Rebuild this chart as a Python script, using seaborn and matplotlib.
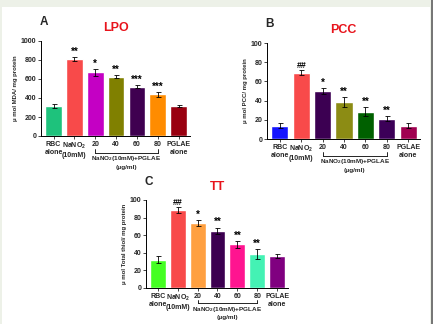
import matplotlib
matplotlib.use("Agg")
import matplotlib.pyplot as plt
import matplotlib.patches as mpatches
import seaborn as sns
import pandas as pd

sns.set_style("ticks")
plt.rcParams['font.family'] = ['Liberation Sans', 'DejaVu Sans']
plt.rcParams['mathtext.fontset'] = 'custom'
plt.rcParams['mathtext.rm'] = 'Liberation Sans:bold'
plt.rcParams['mathtext.it'] = 'Liberation Sans:bold'
plt.rcParams['mathtext.bf'] = 'Liberation Sans:bold'
plt.rcParams['mathtext.default'] = 'rm'

groups = ["RBC alone", "NaNO2", "20", "40", "60", "80", "PGLAE alone"]
tick_labels = ["RBC\nalone", "NaNO$_2$\n(10mM)", "20", "40", "60", "80", "PGLAE\nalone"]
bracket_label = "NaNO$_2$(10mM)+PGLAE\n(\u03bcg/ml)"

lpo_vals = [315, 810, 670, 625, 520, 440, 315]
lpo_err = [20, 20, 35, 15, 15, 25, 15]
lpo_sig = ["", "**", "*", "**", "***", "***", ""]
lpo_colors = ["#1ec27c", "#f84a4a", "#c400c4", "#808000", "#3f0050", "#ff8c00", "#990010"]

pcc_vals = [14, 69, 50, 38.5, 28.5, 21, 14]
pcc_err = [2.5, 2.5, 3, 5, 4.5, 2.5, 2.5]
pcc_sig = ["", "##", "*", "**", "**", "**", ""]
pcc_colors = ["#1414ff", "#f84a4a", "#3c0052", "#8c8c14", "#006000", "#3c0058", "#a00050"]

tt_vals = [32, 88.5, 74, 65, 49.5, 39, 36.5]
tt_err = [4, 3, 3.5, 3.5, 4, 5.5, 2.5]
tt_sig = ["", "##", "*", "**", "**", "**", ""]
tt_colors = ["#44ff22", "#f84a4a", "#ffa040", "#3c0050", "#ff1490", "#44f2b4", "#800080"]

W, H = 433, 324
fig = plt.figure(figsize=(W / 100, H / 100), dpi=100)
fig.patch.set_facecolor("#edf1e8")
bg = mpatches.Rectangle((2 / W, 0), 428 / W, (H - 7) / H,
                        transform=fig.transFigure, facecolor="white",
                        edgecolor="none", zorder=-10)
edge = mpatches.Rectangle((431 / W, 0), 2 / W, 1,
                          transform=fig.transFigure, facecolor="#777777",
                          edgecolor="none", zorder=-10)
fig.add_artist(bg)
fig.add_artist(edge)


def px_axes(l, r, b, t):
    ax = fig.add_axes([l / W, 1 - b / H, (r - l) / W, (b - t) / H])
    ax.set_facecolor("none")
    return ax


def panel(ax, vals, errs, sig, colors, ymax, step, ylabel, title, letter, sigoff):
    df = pd.DataFrame({"group": groups, "value": vals})
    sns.barplot(data=df, x="group", y="value", hue="group", palette=colors,
                legend=False, width=0.8, ax=ax, saturation=1, errorbar=None)
    ax.errorbar(range(len(vals)), vals, yerr=errs, fmt="none", ecolor="black",
                elinewidth=0.6, capsize=1.8, capthick=0.6)
    for i, s in enumerate(sig):
        if s:
            ax.text(i, vals[i] + errs[i] + sigoff, s, ha="center", va="bottom",
                    fontsize=7 if "*" in s else 6.3, fontweight="bold", color="black")
    ax.set_ylim(0, ymax)
    ax.set_xlim(-0.6, 6.55)
    ax.set_yticks(range(0, ymax + 1, step))
    ax.set_xticks(range(7))
    ax.set_xticklabels(tick_labels)
    ax.set_xlabel("")
    ax.set_ylabel(ylabel, fontsize=4.3, fontweight="bold", labelpad=2)
    ax.tick_params(axis="both", labelsize=5, length=2, width=0.6, pad=1.5)
    for lab in ax.get_xticklabels() + ax.get_yticklabels():
        lab.set_fontweight("bold")
    for sp in ["top", "right"]:
        ax.spines[sp].set_visible(False)
    for sp in ["left", "bottom"]:
        ax.spines[sp].set_linewidth(0.7)
        ax.spines[sp].set_color("black")
    ax.set_title(title, color="#e8141c", fontsize=9, fontweight="bold", pad=7)
    ax.text(-0.01, 1.14, letter, transform=ax.transAxes, fontsize=8.5,
            fontweight="bold", ha="left", va="bottom")
    # bracket under 20-80
    tr = ax.get_xaxis_transform()
    yb = -0.175
    ax.plot([2, 5], [yb, yb], color="black", lw=0.6, transform=tr, clip_on=False)
    ax.plot([2, 2], [yb, yb + 0.035], color="black", lw=0.6, transform=tr, clip_on=False)
    ax.plot([5, 5], [yb, yb + 0.035], color="black", lw=0.6, transform=tr, clip_on=False)
    ax.text(3.5, yb - 0.015, bracket_label, transform=tr, ha="center", va="top",
            fontsize=4.6, fontweight="bold", linespacing=1.4)


axA = px_axes(41, 190, 136, 41)
panel(axA, lpo_vals, lpo_err, lpo_sig, lpo_colors, 1000, 200,
      "\u03bc mol MDA/ mg protein", "LPO", "A", 5)

axB = px_axes(267, 420, 139, 43)
panel(axB, pcc_vals, pcc_err, pcc_sig, pcc_colors, 100, 20,
      "\u03bc mol PCC/ mg protein", "PCC", "B", 0.5)

axC = px_axes(146, 288, 288, 200)
panel(axC, tt_vals, tt_err, tt_sig, tt_colors, 100, 20,
      "\u03bc mol Total thiol/ mg protein", "TT", "C", 0.5)

fig.savefig("out.png", dpi=100, facecolor=fig.get_facecolor())
